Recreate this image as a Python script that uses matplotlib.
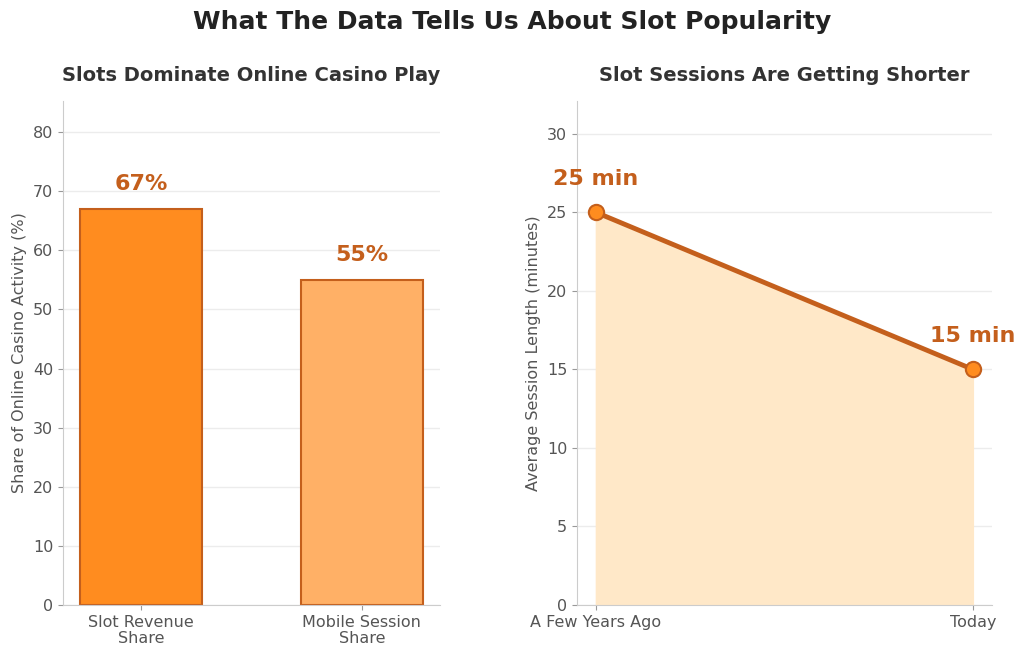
import numpy as np
import matplotlib.pyplot as plt

bar_labels = ["Slot Revenue\nShare", "Mobile Session\nShare"]
bar_values = [67, 55]
bar_colors = ["#ff8c1f", "#ffb066"]

periods = ["A Few Years Ago", "Today"]
session_minutes = [25, 15]

dark = "#c45f1c"
grey = "#555555"
spine = "#cccccc"

fig = plt.figure(figsize=(10.24, 6.6), dpi=100)
ax1 = fig.add_axes([0.0615, 0.0833, 0.368, 0.764])
ax2 = fig.add_axes([0.5635, 0.0833, 0.405, 0.764])

for ax in (ax1, ax2):
    ax.spines["top"].set_visible(False)
    ax.spines["right"].set_visible(False)
    ax.spines["left"].set_color(spine)
    ax.spines["bottom"].set_color(spine)
    ax.tick_params(colors=grey, labelsize=11.5)
    ax.tick_params(axis="both", color="#999999")
    ax.yaxis.grid(True, color="#ececec", linewidth=1)
    ax.set_axisbelow(True)

# left: bars
x = np.arange(len(bar_labels))
bars = ax1.bar(x, bar_values, width=0.55, color=bar_colors, edgecolor=dark, linewidth=1.5)
for xi, v in zip(x, bar_values):
    ax1.annotate(f"{v}%", (xi, v), xytext=(0, 11), textcoords="offset points",
                 ha="center", va="bottom", fontsize=16, fontweight="bold", color=dark)
ax1.set_xticks(x)
ax1.set_xticklabels(bar_labels, linespacing=1.1)
ax1.set_ylim(0, 85.3)
ax1.set_yticks(range(0, 81, 10))
ax1.set_ylabel("Share of Online Casino Activity (%)", color=grey, fontsize=11.5)
ax1.set_title("Slots Dominate Online Casino Play", fontsize=14, fontweight="bold",
              color="#333333", pad=14)

# right: line
xp = np.arange(len(periods))
ax2.fill_between(xp, session_minutes, color="#ffe8c8", alpha=1, zorder=1)
ax2.plot(xp, session_minutes, color=dark, linewidth=3.5, marker="o", markersize=11,
         markerfacecolor="#ff8c1f", markeredgecolor=dark, markeredgewidth=1.5, zorder=3)
for xi, v in zip(xp, session_minutes):
    ax2.annotate(f"{v} min", (xi, v), xytext=(0, 17), textcoords="offset points",
                 ha="center", va="bottom", fontsize=16, fontweight="bold", color=dark)
ax2.set_xticks(xp)
ax2.set_xticklabels(periods)
ax2.set_ylim(0, 32.1)
ax2.set_yticks(range(0, 31, 5))
ax2.set_ylabel("Average Session Length (minutes)", color=grey, fontsize=11.5)
ax2.set_title("Slot Sessions Are Getting Shorter", fontsize=14, fontweight="bold",
              color="#333333", pad=14)

fig.suptitle("What The Data Tells Us About Slot Popularity", fontsize=18,
             fontweight="bold", color="#222222", y=0.985)

fig.savefig("out.png", dpi=100)
